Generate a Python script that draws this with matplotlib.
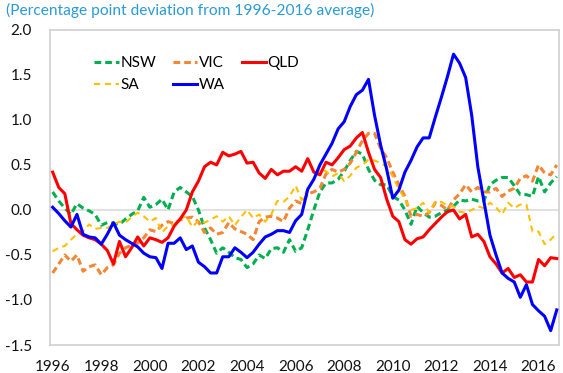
import numpy as np
import matplotlib
matplotlib.use("Agg")
import matplotlib.pyplot as plt

# Quarterly observations, 1996 Q1 to 2016 Q4
start_year = 1996
n_quarters = 84

nsw = [0.20, 0.10, 0.02, -0.05, 0.07, 0.02, -0.01, -0.05, -0.17, -0.14, -0.15, -0.16,
       -0.10, -0.05, -0.01, 0.14, 0.03, 0.06, 0.12, 0.00, 0.20, 0.25, 0.20, 0.15,
       0.00, -0.20, -0.33, -0.48, -0.42, -0.47, -0.53, -0.55, -0.64, -0.60, -0.50, -0.54,
       -0.43, -0.42, -0.47, -0.33, -0.46, -0.42, -0.22, 0.00, 0.20, 0.30, 0.30, 0.34,
       0.43, 0.55, 0.65, 0.62, 0.45, 0.33, 0.28, 0.28, 0.15, 0.11, 0.00, -0.16,
       0.04, -0.03, -0.08, -0.07, -0.03, 0.00, 0.04, 0.11, 0.10, 0.12, 0.10, 0.10,
       0.28, 0.33, 0.36, 0.36, 0.27, 0.17, 0.17, 0.15, 0.37, 0.20, 0.30, 0.37]

vic = [-0.70, -0.60, -0.50, -0.57, -0.50, -0.68, -0.63, -0.61, -0.72, -0.64, -0.61, -0.48,
       -0.42, -0.39, -0.37, -0.31, -0.22, -0.24, -0.17, -0.13, -0.15, -0.11, -0.09, -0.08,
       -0.13, -0.25, -0.20, -0.27, -0.25, -0.14, -0.21, -0.24, -0.27, -0.33, -0.13, -0.08,
       -0.07, -0.09, -0.13, 0.02, 0.10, 0.07, 0.18, 0.20, 0.24, 0.40, 0.45, 0.42,
       0.45, 0.52, 0.64, 0.77, 0.85, 0.85, 0.68, 0.58, 0.42, 0.28, 0.15, -0.07,
       -0.05, -0.07, -0.03, 0.08, 0.05, 0.00, 0.11, 0.18, 0.28, 0.20, 0.25, 0.20,
       0.20, 0.24, 0.15, 0.21, 0.24, 0.35, 0.38, 0.32, 0.50, 0.41, 0.39, 0.50]

qld = [0.42, 0.25, 0.18, -0.15, -0.22, -0.28, -0.31, -0.33, -0.38, -0.45, -0.60, -0.35,
       -0.52, -0.42, -0.30, -0.40, -0.31, -0.33, -0.36, -0.31, -0.18, -0.10, 0.00, 0.20,
       0.32, 0.48, 0.53, 0.50, 0.64, 0.60, 0.62, 0.65, 0.52, 0.53, 0.41, 0.35,
       0.45, 0.39, 0.43, 0.43, 0.48, 0.43, 0.57, 0.42, 0.39, 0.53, 0.50, 0.58,
       0.67, 0.71, 0.80, 0.86, 0.64, 0.45, 0.36, 0.12, -0.07, -0.13, -0.33, -0.38,
       -0.32, -0.30, -0.22, -0.15, -0.08, -0.02, 0.00, -0.10, -0.05, -0.30, -0.27, -0.35,
       -0.52, -0.60, -0.70, -0.65, -0.75, -0.72, -0.80, -0.80, -0.55, -0.62, -0.53, -0.54]

sa = [-0.46, -0.42, -0.40, -0.33, -0.27, -0.24, -0.16, -0.21, -0.20, -0.20, -0.16, -0.13,
      -0.14, -0.08, -0.03, -0.07, -0.13, -0.09, -0.25, -0.18, -0.16, -0.10, -0.07, -0.19,
      -0.12, -0.14, -0.11, -0.07, -0.13, -0.07, -0.17, -0.08, 0.00, -0.09, -0.05, -0.13,
      -0.05, 0.10, 0.09, 0.15, 0.27, 0.11, 0.23, 0.35, 0.45, 0.43, 0.37, 0.41,
      0.32, 0.38, 0.47, 0.50, 0.56, 0.55, 0.52, 0.48, 0.37, 0.23, 0.12, 0.00,
      0.02, 0.08, -0.03, 0.09, 0.09, 0.05, 0.04, -0.02, -0.03, 0.00, 0.04, 0.02,
      0.08, 0.03, -0.05, 0.08, 0.02, 0.06, 0.06, -0.24, -0.24, -0.38, -0.33, -0.26]

wa = [0.03, -0.04, -0.12, -0.19, -0.05, -0.27, -0.30, -0.31, -0.38, -0.27, -0.14, -0.28,
      -0.33, -0.37, -0.41, -0.48, -0.52, -0.53, -0.65, -0.37, -0.37, -0.31, -0.44, -0.40,
      -0.58, -0.63, -0.70, -0.70, -0.52, -0.52, -0.42, -0.47, -0.53, -0.47, -0.38, -0.30,
      -0.27, -0.23, -0.23, -0.25, -0.12, -0.05, 0.23, 0.34, 0.50, 0.62, 0.74, 0.90,
      0.98, 1.15, 1.28, 1.33, 1.45, 1.05, 0.72, 0.45, 0.13, 0.22, 0.42, 0.55,
      0.70, 0.80, 0.80, 1.03, 1.25, 1.48, 1.73, 1.63, 1.47, 1.05, 0.48, 0.10,
      -0.28, -0.50, -0.70, -0.76, -0.80, -0.97, -0.83, -1.05, -1.12, -1.18, -1.34, -1.11]

tick_years = [1996, 1998, 2000, 2002, 2004, 2006, 2008, 2010, 2012, 2014, 2016]
y_ticks = [-1.5, -1.0, -0.5, 0.0, 0.5, 1.0, 1.5, 2.0]
title_text = "(Percentage point deviation from 1996-2016 average)"

plt.rcParams['font.family'] = ['Lato', 'DejaVu Sans']

t = start_year + np.arange(n_quarters) / 4.0

fig = plt.figure(figsize=(5.63, 3.73), dpi=100)
ax = fig.add_axes([0.0888, 0.075, 0.904, 0.845])

ax.axhline(0, color='#d9d9d9', lw=1.1, zorder=1)

l_nsw, = ax.plot(t, nsw, color='#00b050', lw=2.2, dashes=(2.2, 1.3), label='NSW', zorder=3)
l_vic, = ax.plot(t, vic, color='#f58634', lw=2.2, dashes=(2.2, 1.3), label='VIC', zorder=3)
l_qld, = ax.plot(t, qld, color='#ff0000', lw=2.2, label='QLD', zorder=4)
l_sa, = ax.plot(t, sa, color='#ffc000', lw=1.5, dashes=(3, 2.2), label='SA', zorder=3)
l_wa, = ax.plot(t, wa, color='#0000ff', lw=2.2, label='WA', zorder=5)

ax.set_xlim(1995.89, 2016.84)
ax.set_ylim(-1.5, 2.0)
ax.set_xticks(tick_years)
ax.set_xticklabels([str(y) for y in tick_years])
ax.set_yticks(y_ticks)
ax.set_yticklabels([f"{v:.1f}" for v in y_ticks])
ax.tick_params(axis='both', length=0, labelsize=11, colors='#111111')
ax.tick_params(axis='y', pad=13)
ax.tick_params(axis='x', pad=11)

for s in ax.spines.values():
    s.set_color('#d0d0d0')
    s.set_linewidth(1.2)

leg = ax.legend(handles=[l_nsw, l_sa, l_vic, l_wa, l_qld], ncol=3, frameon=False,
                loc='upper left', bbox_to_anchor=(0.075, 0.935), fontsize=11,
                handlelength=1.6, handletextpad=0.1, columnspacing=1.1,
                labelspacing=0.5, borderaxespad=0)

fig.text(0.011, 0.992, title_text, color='#2a9bd3', fontsize=11.2, ha='left', va='top')

fig.savefig('out.png', dpi=100)
